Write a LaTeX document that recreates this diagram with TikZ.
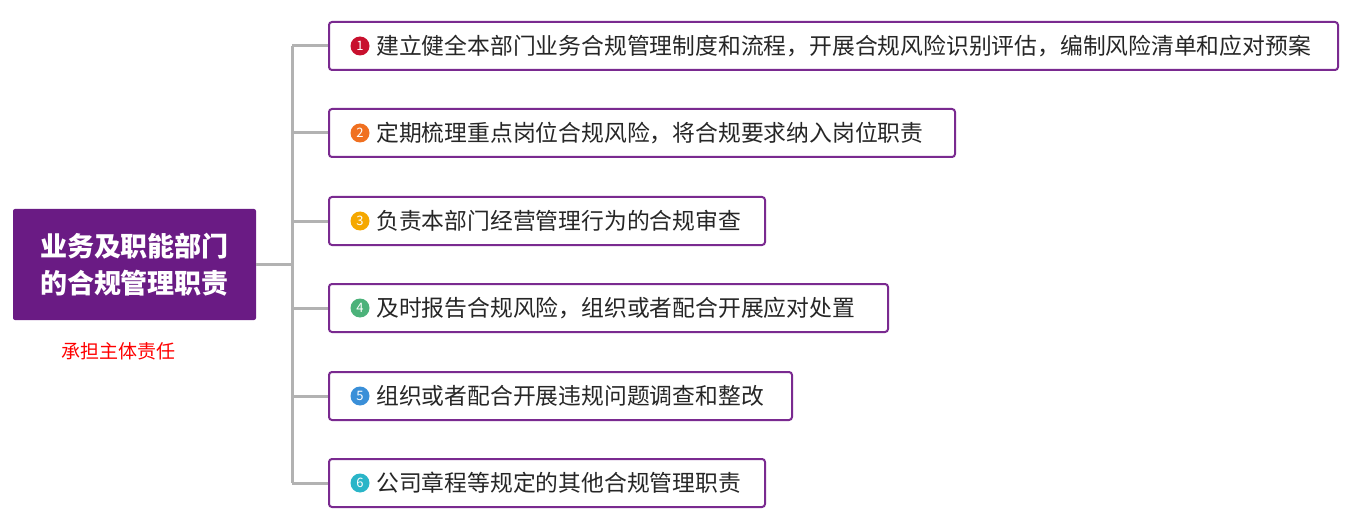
\documentclass[tikz,border=0pt]{standalone}
\usepackage{fontspec}
\setmainfont{Noto Sans CJK SC}
\begin{document}
\begin{tikzpicture}[x=1pt,y=-1pt,
  conn/.style={draw=gray!60,line width=3pt},
  item/.style={draw=itemp,line width=2pt,rounded corners=3pt,anchor=west,minimum height=48pt,inner sep=0pt},
  badge/.style={circle,inner sep=0pt,minimum size=19pt,text=white,font=\fontsize{13}{13}\selectfont}]
\definecolor{mainp}{HTML}{6A1B84}
\definecolor{itemp}{HTML}{7A2A90}
\useasboundingbox (0,0) rectangle (1353,524);
\node[fill=mainp,minimum width=243pt,minimum height=111pt,rounded corners=2pt,text=white,align=center,font=\fontsize{27}{37}\selectfont\bfseries] (root) at (134.5,264.5) {业务及职能部门\\的合规管理职责};
\node[text=red,font=\fontsize{19}{19}\selectfont] (note) at (118,351) {承担主体责任};
\coordinate (j) at (292,264.5);
\draw[conn] (root.east) -- (j);
\foreach \i/\y/\w/\c/\t in {
 1/46/1009/C8102E/建立健全本部门业务合规管理制度和流程，开展合规风险识别评估，编制风险清单和应对预案,
 2/133/626/F07020/定期梳理重点岗位合规风险，将合规要求纳入岗位职责,
 3/221/436/F5A800/负责本部门经营管理行为的合规审查,
 4/308/559/4CB27A/及时报告合规风险，组织或者配合开展应对处置,
 5/396/463/3A8FD8/组织或者配合开展违规问题调查和整改,
 6/483/436/2AB5C8/公司章程等规定的其他合规管理职责}{
  \definecolor{bc\i}{HTML}{\c}
  \node[item,minimum width=\w pt] (b\i) at (328,\y) {};
  \node[badge,fill=bc\i] (n\i) at (360,\y) {\i};
  \node[anchor=west,inner sep=0pt,font=\fontsize{22.8}{24}\selectfont,text=black!85] (t\i) at (376,\y) {\t};
  \coordinate (k\i) at (292,\y);
  \draw[conn] (k\i) -- (b\i.west);
}
\draw[conn] (k1) -- (k6);
\end{tikzpicture}
\end{document}
